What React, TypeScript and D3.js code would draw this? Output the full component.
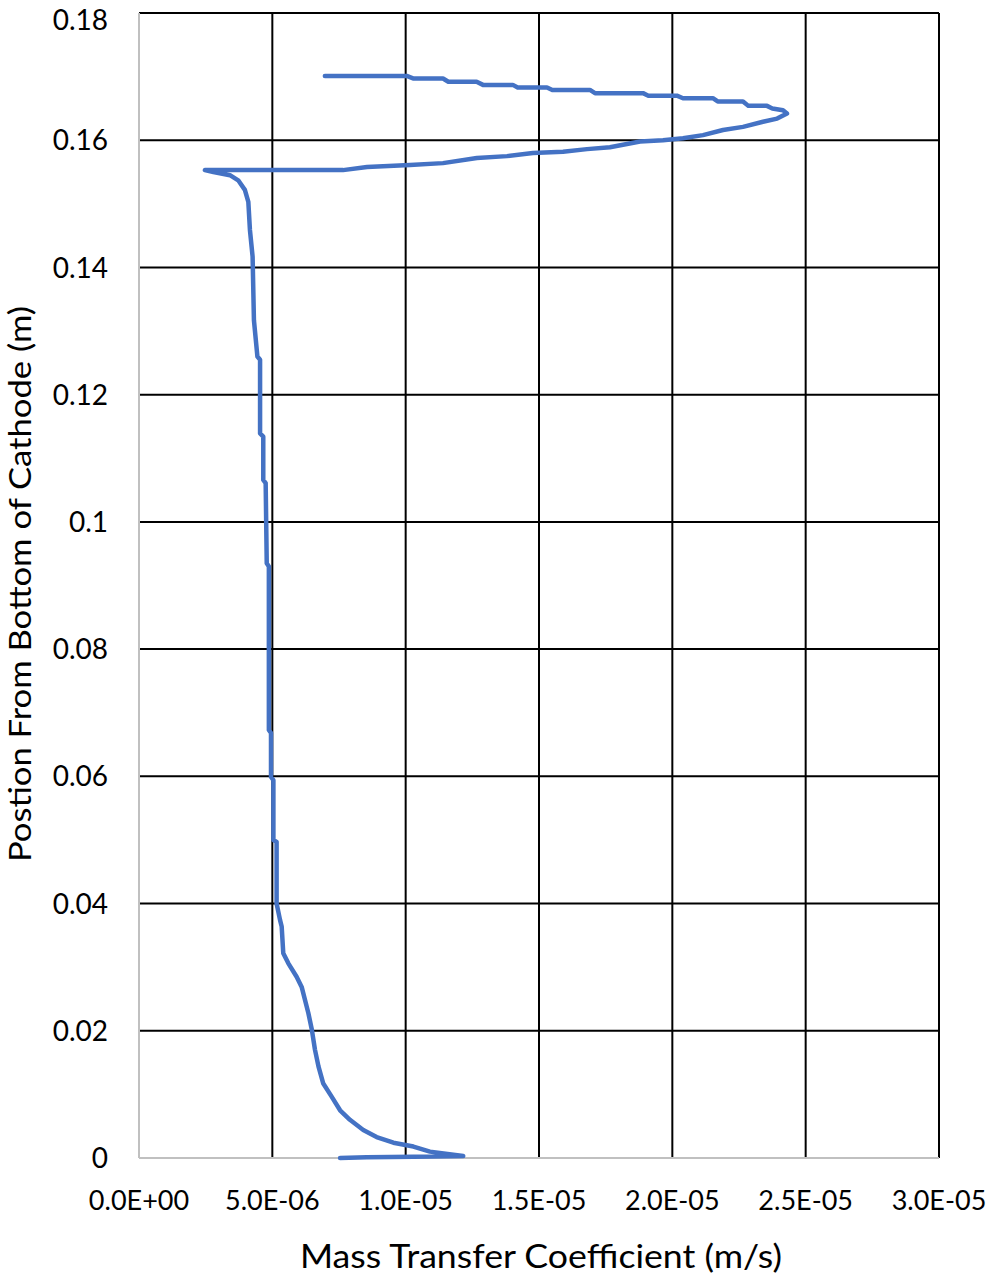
import React from "react";
import * as d3 from "d3";

// coefficient values (m/s) and position from bottom (m), traced from bottom up and round the loop
const coefficient = [
  7.54e-6, 8.54e-6, 10.3e-6, 12.16e-6, 10.91e-6, 10.29e-6, 9.54e-6, 8.91e-6, 8.41e-6, 7.91e-6,
  7.54e-6, 7.23e-6, 6.91e-6, 6.73e-6, 6.6e-6, 6.48e-6, 6.35e-6, 6.1e-6, 5.91e-6, 5.6e-6,
  5.41e-6, 5.35e-6, 5.29e-6, 5.16e-6, 5.16e-6, 5.04e-6, 5.04e-6, 4.95e-6, 4.95e-6, 4.87e-6,
  4.87e-6, 4.79e-6, 4.75e-6, 4.66e-6, 4.66e-6, 4.54e-6, 4.54e-6, 4.44e-6, 4.31e-6, 4.26e-6,
  4.16e-6, 4.1e-6, 3.97e-6, 3.72e-6, 3.41e-6, 2.79e-6, 2.47e-6,
  // lower arm of the loop, left to right
  6.04e-6, 7.65e-6, 8.55e-6, 10.16e-6, 11.4e-6, 12.67e-6, 13.8e-6, 14.77e-6, 15.9e-6, 16.8e-6,
  17.66e-6, 18.79e-6, 19.65e-6, 20.4e-6, 21.15e-6, 21.9e-6, 22.65e-6, 23.4e-6, 23.93e-6, 24.3e-6,
  // upper arm, right to left
  24.15e-6, 23.75e-6, 23.55e-6, 22.85e-6, 22.65e-6, 21.7e-6, 21.52e-6, 20.4e-6, 20.17e-6, 19.1e-6,
  18.9e-6, 17.1e-6, 16.91e-6, 15.5e-6, 15.3e-6, 14.2e-6, 14.02e-6, 12.9e-6, 12.66e-6, 11.6e-6,
  11.4e-6, 10.3e-6, 10.04e-6, 6.97e-6,
];
const position = [
  0.0, 0.0001, 0.0002, 0.0003, 0.001, 0.0018, 0.0024, 0.0033, 0.0044, 0.006,
  0.0075, 0.0096, 0.0117, 0.0144, 0.017, 0.0202, 0.0228, 0.0269, 0.0285, 0.0306,
  0.0322, 0.0364, 0.0374, 0.04, 0.0497, 0.05, 0.0594, 0.0599, 0.0668, 0.0673,
  0.093, 0.0935, 0.1061, 0.1066, 0.1134, 0.1139, 0.1255, 0.126, 0.1317, 0.1417,
  0.1459, 0.1503, 0.1522, 0.1537, 0.1545, 0.155, 0.1553,
  0.1553, 0.1553, 0.1558, 0.1561, 0.1564, 0.1572, 0.1575, 0.158, 0.1582, 0.1586,
  0.1589, 0.1598, 0.16, 0.1603, 0.1608, 0.1616, 0.1621, 0.1629, 0.1634, 0.1642,
  0.1647, 0.165, 0.1654, 0.1654, 0.1661, 0.1661, 0.1666, 0.1666, 0.167, 0.167,
  0.1674, 0.1674, 0.1679, 0.1679, 0.1683, 0.1683, 0.1687, 0.1687, 0.1692, 0.1692,
  0.1697, 0.1697, 0.1701, 0.1701,
];

const xTicks = [0, 5e-6, 1e-5, 1.5e-5, 2e-5, 2.5e-5, 3e-5];
const xTickLabels = ["0.0E+00", "5.0E-06", "1.0E-05", "1.5E-05", "2.0E-05", "2.5E-05", "3.0E-05"];
const yTicks = [0, 0.02, 0.04, 0.06, 0.08, 0.1, 0.12, 0.14, 0.16, 0.18];
const yTickLabels = ["0", "0.02", "0.04", "0.06", "0.08", "0.1", "0.12", "0.14", "0.16", "0.18"];

const xTitle = "Mass Transfer Coefficient (m/s)";
const yTitle = "Postion From Bottom of Cathode (m)";

export default function App() {
  const width = 992,
    height = 1280;
  const left = 139,
    right = 939,
    top = 13,
    bottom = 1158;

  const x = d3.scaleLinear().domain([0, 3e-5]).range([left, right]);
  const y = d3.scaleLinear().domain([0, 0.18]).range([bottom, top]);

  const points = coefficient.map((c, i) => [c, position[i]] as [number, number]);
  const line = d3
    .line<[number, number]>()
    .x((d) => x(d[0]))
    .y((d) => y(d[1]));

  const font = "Lato, 'Open Sans', sans-serif";

  return (
    <svg
      width={width}
      height={height}
      style={{ position: "absolute", left: 0, top: 0, background: "#fff" }}
      fontFamily={font}
    >
      {/* grid */}
      {yTicks.slice(1).map((t) => (
        <line key={"h" + t} x1={left} x2={right} y1={y(t)} y2={y(t)} stroke="#000" strokeWidth={2} />
      ))}
      {xTicks.slice(1).map((t) => (
        <line key={"v" + t} x1={x(t)} x2={x(t)} y1={top} y2={bottom} stroke="#000" strokeWidth={2} />
      ))}
      {/* axes */}
      <line x1={left} x2={left} y1={top} y2={bottom} stroke="#c0c0c0" strokeWidth={2} />
      <line x1={left} x2={right} y1={bottom} y2={bottom} stroke="#c0c0c0" strokeWidth={2} />

      <path d={line(points) || ""} fill="none" stroke="#4472C4" strokeWidth={4.5} strokeLinejoin="round" strokeLinecap="round" />

      {yTicks.map((t, i) => (
        <text key={"yl" + t} x={108} y={Math.max(y(t), 20)} dy="0.36em" textAnchor="end" fontSize={28} fill="#000">
          {yTickLabels[i]}
        </text>
      ))}
      {xTicks.map((t, i) => (
        <text key={"xl" + t} x={x(t)} y={1210} textAnchor="middle" fontSize={27} fill="#000">
          {xTickLabels[i]}
        </text>
      ))}
      <text x={541} y={1268} textAnchor="middle" fontSize={33} fill="#000" textLength={482} lengthAdjust="spacingAndGlyphs">
        {xTitle}
      </text>
      <text transform="translate(31,584) rotate(-90)" textAnchor="middle" fontSize={31} fill="#000" textLength={556} lengthAdjust="spacingAndGlyphs">
        {yTitle}
      </text>
    </svg>
  );
}
